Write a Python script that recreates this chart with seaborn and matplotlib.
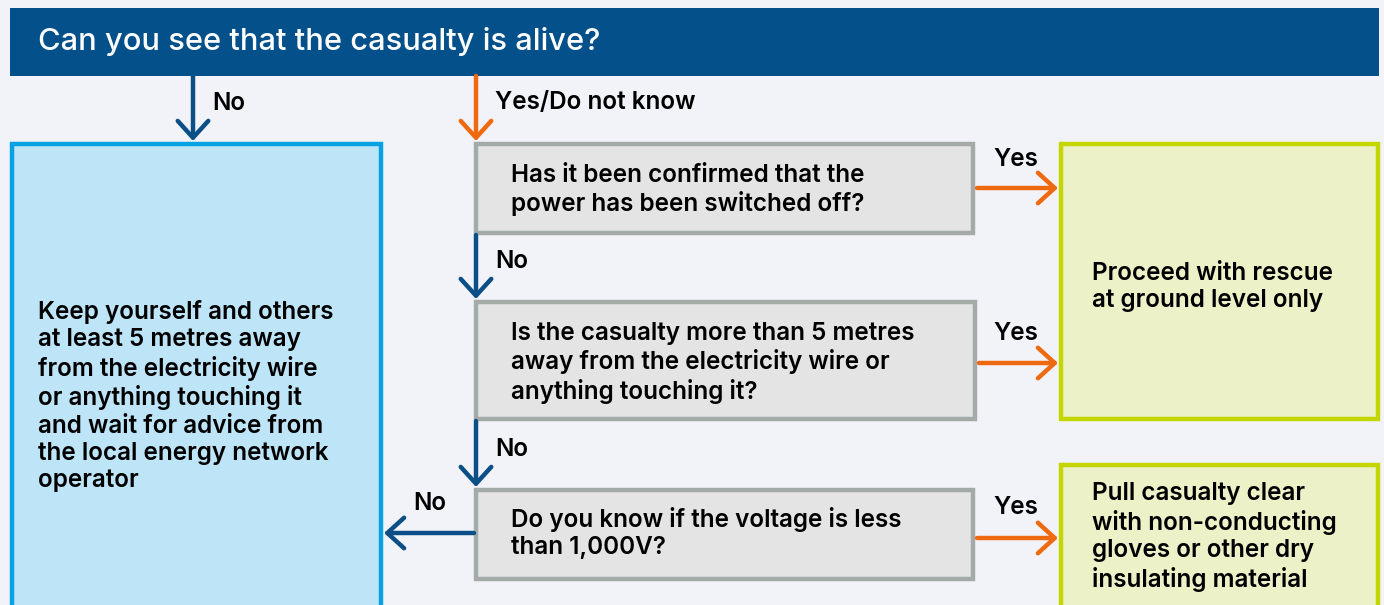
"""Electric shock rescue flowchart"""
import seaborn as sns
import matplotlib.pyplot as plt
from matplotlib.patches import Rectangle

# texts
header_text = "Can you see that the casualty is alive?"
question_texts = [
    "Has it been confirmed that the\npower has been switched off?",
    "Is the casualty more than 5 metres\naway from the electricity wire or\nanything touching it?",
    "Do you know if the voltage is less\nthan 1,000V?",
]
left_text = ("Keep yourself and others\nat least 5 metres away\nfrom the electricity wire\n"
             "or anything touching it\nand wait for advice from\nthe local energy network\noperator")
green_texts = [
    "Proceed with rescue\nat ground level only",
    "Pull casualty clear\nwith non-conducting\ngloves or other dry\ninsulating material",
]
arrow_labels = ["No", "Yes/Do not know", "No", "No", "No", "Yes", "Yes", "Yes"]

# layout (pixels)
W, H = 1384, 605
BG = '#F2F3F9'
NAVY = '#03508A'
ARROW_BLUE = '#0B4F86'
ORANGE = '#EE6A10'
FS = 17.5
WEIGHT = 'semibold'
LS = 1.23

sns.set_theme(style='white')
plt.rcParams['font.family'] = ['Inter', 'DejaVu Sans']

fig = plt.figure(figsize=(W / 100, H / 100), dpi=100, facecolor=BG)
ax = fig.add_axes([0, 0, 1, 1])
ax.set_xlim(0, W)
ax.set_ylim(H, 0)
ax.axis('off')
ax.set_facecolor(BG)


def box(x0, y0, x1, y1, fc, ec, lw=3.2):
    ax.add_patch(Rectangle((x0, y0), x1 - x0, y1 - y0, facecolor=fc,
                           edgecolor=ec, linewidth=lw, zorder=2))


def arrow(x0, y0, x1, y1, color):
    ax.annotate('', xy=(x1, y1), xytext=(x0, y0), zorder=3,
                arrowprops=dict(arrowstyle='->,head_length=0.55,head_width=0.5',
                                color=color, lw=3.2, shrinkA=0, shrinkB=0,
                                mutation_scale=22))


def text(x, y, s, **kw):
    ax.text(x, y, s, fontsize=FS, color='black', va='center', ha='left',
            fontweight=WEIGHT, linespacing=LS, zorder=4, **kw)


# header
ax.add_patch(Rectangle((10, 8), 1369, 68, facecolor=NAVY, edgecolor='none', zorder=2))
ax.text(38, 42, header_text, fontsize=22.2, color='white', va='center', ha='left',
        fontweight='medium', zorder=4)

# boxes
box(12, 144, 381, 640, '#BEE4F8', '#08A2E2')
box(476, 144, 973, 233, '#E4E4E4', '#A4AAA8')
box(476, 302, 975, 419, '#E4E4E4', '#A4AAA8')
box(476, 490, 973, 579, '#E4E4E4', '#A4AAA8')
box(1061, 144, 1378, 419, '#ECF1C7', '#C5D500')
box(1061, 465, 1378, 640, '#ECF1C7', '#C5D500')

# box texts
q_y = [190, 363, 533]
for s, y in zip(question_texts, q_y):
    text(511, y, s)
text(38, 396, left_text)
text(1092, 287, green_texts[0])
text(1092, 537, green_texts[1])

# arrows and their labels
arrow(193, 76, 193, 141, ARROW_BLUE)
arrow(476, 76, 476, 141, ORANGE)
arrow(476, 235, 476, 299, ARROW_BLUE)
arrow(476, 421, 476, 487, ARROW_BLUE)
arrow(474, 533, 384, 533, ARROW_BLUE)
arrow(977, 188, 1058, 188, ORANGE)
arrow(979, 363, 1058, 363, ORANGE)
arrow(977, 538, 1058, 538, ORANGE)

label_pos = [(212, 103), (495, 103), (495, 262), (495, 450), (413, 503),
             (993, 159), (993, 333), (993, 507)]
for s, (x, y) in zip(arrow_labels, label_pos):
    text(x, y, s)

fig.savefig('out.png', dpi=100, facecolor=BG)
